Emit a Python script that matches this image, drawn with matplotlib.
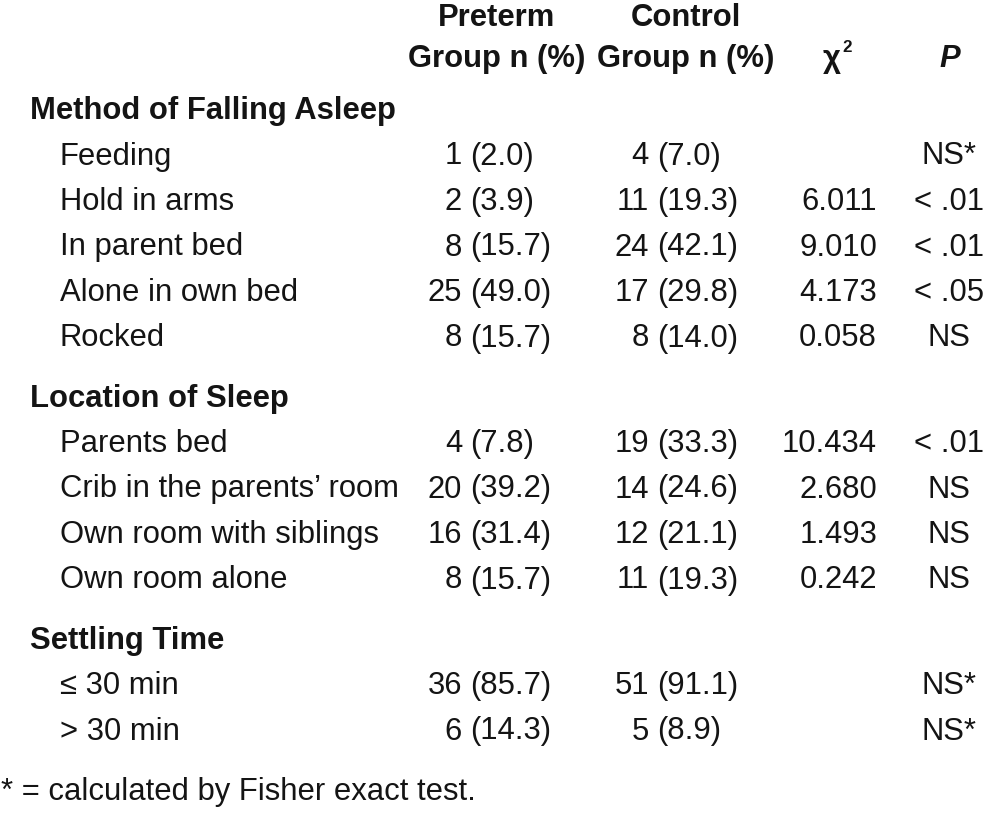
import matplotlib.pyplot as plt
from matplotlib import font_manager

# the reference uses a condensed sans; use a narrow face when one is installed
names = {f.name for f in font_manager.fontManager.ttflist}
if 'Liberation Sans Narrow' in names:
    plt.rcParams['font.family'] = ['Liberation Sans Narrow', 'Liberation Sans', 'DejaVu Sans']
    FS = 26
else:
    plt.rcParams['font.family'] = ['Liberation Sans', 'DejaVu Sans']
    FS = 22.3

# table contents
sections = ["Method of Falling Asleep", "Location of Sleep", "Settling Time"]
section_rows = [
    ["Feeding", "Hold in arms", "In parent bed", "Alone in own bed", "Rocked"],
    ["Parents bed", "Crib in the parents\u2019 room", "Own room with siblings", "Own room alone"],
    ["\u2264 30 min", "> 30 min"],
]
preterm_n = [1, 2, 8, 25, 8, 4, 20, 16, 8, 36, 6]
preterm_pct = [2.0, 3.9, 15.7, 49.0, 15.7, 7.8, 39.2, 31.4, 15.7, 85.7, 14.3]
control_n = [4, 11, 24, 17, 8, 19, 14, 12, 11, 51, 5]
control_pct = [7.0, 19.3, 42.1, 29.8, 14.0, 33.3, 24.6, 21.1, 19.3, 91.1, 8.9]
chi2 = ["", "6.011", "9.010", "4.173", "0.058", "10.434", "2.680", "1.493", "0.242", "", ""]
p_vals = ["NS*", "< .01", "< .01", "< .05", "NS", "< .01", "NS", "NS", "NS", "NS*", "NS*"]
footnote = "* = calculated by Fisher exact test."

COL = '#141414'

fig = plt.figure(figsize=(9.86, 8.32), dpi=100)
ax = fig.add_axes([0, 0, 1, 1])
ax.set_xlim(0, 986)
ax.set_ylim(832, 0)
ax.axis('off')

def txt(x, y, s, ha='left', **kw):
    kw.setdefault('fontsize', FS)
    ax.text(x, y, s, ha=ha, va='baseline', color=COL, **kw)

# header
txt(497, 26, "Preterm", ha='center', fontweight='bold')
txt(497, 67, "Group n (%)", ha='center', fontweight='bold')
txt(686, 26, "Control", ha='center', fontweight='bold')
txt(686, 67, "Group n (%)", ha='center', fontweight='bold')
txt(841, 67, "\u03c7", ha='right', fontweight='bold')
txt(842, 52, "2", fontsize=FS * 0.55, fontweight='bold')
txt(950, 67, "P", ha='center', fontweight='bold', style='italic')

y = 119
i = 0
for sec, rows in zip(sections, section_rows):
    txt(30, y, sec, fontweight='bold')
    for lab in rows:
        y += 45.5
        txt(60, y, lab)
        txt(462, y, str(preterm_n[i]), ha='right')
        txt(470, y, f"({preterm_pct[i]:.1f})")
        txt(649, y, str(control_n[i]), ha='right')
        txt(657, y, f"({control_pct[i]:.1f})")
        if chi2[i]:
            txt(877, y, chi2[i], ha='right')
        txt(949, y, p_vals[i], ha='center')
        i += 1
    y += 60

txt(1, 800, footnote)

fig.savefig('out.png', dpi=100, facecolor='white')
